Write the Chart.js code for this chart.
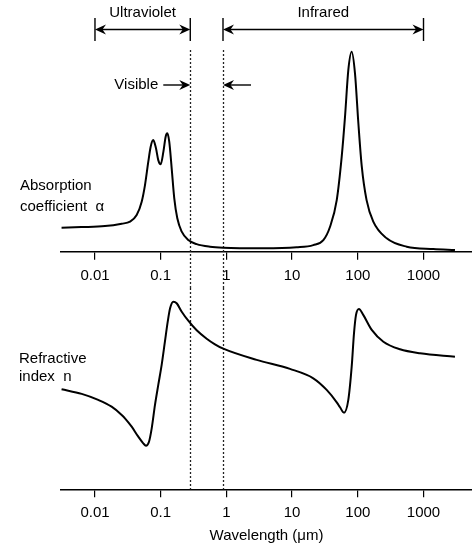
<!DOCTYPE html>
<html>
<head>
<meta charset="utf-8">
<script src="https://cdn.jsdelivr.net/npm/chart.js@4.4.1/dist/chart.umd.min.js"></script>
<style>
  html, body { margin: 0; padding: 0; background: #fff; }
  #wrap { position: relative; width: 472px; height: 544px; }
  #absChart { position: absolute; left: 0; top: 0; }
  #refChart { position: absolute; left: 0; top: 288px; }
</style>
</head>
<body>
<div id="wrap">
  <canvas id="absChart" width="472" height="288"></canvas>
  <canvas id="refChart" width="472" height="256"></canvas>
</div>
<script>
const FONT = '"Liberation Sans", Arial, Helvetica, sans-serif';
Chart.defaults.font.family = FONT;
Chart.defaults.font.size = 15;
Chart.defaults.color = '#000';

// wavelength axis (micrometres)
const tickValues = [0.01, 0.1, 1, 10, 100, 1000];
const xMin = 0.00304;
const xMax = 5470;
const visibleEdges = [0.282, 0.888];
const uvRange = [0.01, 0.282];
const irRange = [0.888, 1000];

// absorption coefficient (arbitrary units)
const absWavelength = [0.0031, 0.0062, 0.0142, 0.0255, 0.0341, 0.0431, 0.0514, 0.0577, 0.0648, 0.0704,
  0.0771, 0.0848, 0.0919, 0.100, 0.110, 0.119, 0.126, 0.135, 0.147, 0.161,
  0.179, 0.209, 0.263, 0.353, 0.563, 0.897, 3.65, 11.7, 21.0, 29.9,
  37.8, 47.8, 56.9, 63.9, 71.7, 80.7, 90.6, 102, 115, 136,
  172, 275, 555, 1410, 3010];
const absValues = [12.0, 12.3, 12.8, 14.0, 15.0, 18.3, 25.0, 33.3, 45.0, 52.5,
  55.8, 51.7, 45.8, 43.7, 50.0, 57.5, 59.2, 55.0, 41.7, 26.7,
  16.7, 10.0, 5.8, 3.8, 2.5, 2.0, 1.7, 2.2, 3.3, 5.8,
  12.5, 25.8, 47.5, 67.5, 90.8, 100, 89.2, 64.2, 42.5, 25.8,
  15.0, 6.7, 2.5, 1.3, 0.8];

// refractive index (arbitrary units)
const refWavelength = [0.0031, 0.00628, 0.0112, 0.0179, 0.0255, 0.0286, 0.0362, 0.0456, 0.0543, 0.0597,
  0.0664, 0.0730, 0.0819, 0.0919, 0.1035, 0.116, 0.128, 0.139, 0.156, 0.175,
  0.209, 0.263, 0.353, 0.501, 0.670, 0.897, 2.89, 9.29, 21.0, 33.6,
  47.8, 53.6, 61.7, 71.7, 80.7, 87.5, 93.9, 104, 121, 163,
  245, 439, 885, 3010];
const refValues = [50, 47.7, 44.7, 41.3, 37.2, 35.5, 31.3, 26.3, 23.0, 21.8,
  23.8, 30.5, 42.2, 52.2, 62.2, 73.8, 83.8, 90.5, 93.8, 93.0,
  88.8, 84.3, 79.5, 75.3, 72.5, 70.3, 64.7, 60.2, 55.5, 49.7,
  43.5, 41.0, 38.3, 44.7, 61.3, 78, 87.2, 90.2, 87.2, 79.7,
  73.8, 70, 68, 66.3];

function arrowHead(ctx, x, y, dir) {
  ctx.beginPath();
  ctx.moveTo(x, y);
  ctx.lineTo(x - dir * 11, y - 5);
  ctx.lineTo(x - dir * 7.5, y);
  ctx.lineTo(x - dir * 11, y + 5);
  ctx.closePath();
  ctx.fill();
}

function hLine(ctx, x1, x2, y) {
  ctx.beginPath();
  ctx.moveTo(x1, y);
  ctx.lineTo(x2, y);
  ctx.stroke();
}

function bracket(ctx, x1, x2, label) {
  ctx.beginPath();
  ctx.moveTo(x1, 18); ctx.lineTo(x1, 41);
  ctx.moveTo(x2, 18); ctx.lineTo(x2, 41);
  ctx.stroke();
  hLine(ctx, x1 + 6, x2 - 6, 29.5);
  arrowHead(ctx, x1, 29.5, -1);
  arrowHead(ctx, x2, 29.5, 1);
  ctx.textAlign = 'center';
  ctx.fillText(label, (x1 + x2) / 2, 13);
}

function dotted(chart, y1, y2) {
  const ctx = chart.ctx, xs = chart.scales.x;
  ctx.save();
  ctx.strokeStyle = '#222';
  ctx.lineWidth = 1.3;
  ctx.setLineDash([2, 2]);
  visibleEdges.forEach(v => {
    const x = Math.round(xs.getPixelForValue(v)) + 0.5;
    ctx.beginPath();
    ctx.moveTo(x, y1);
    ctx.lineTo(x, y2);
    ctx.stroke();
  });
  ctx.restore();
}

const topDecor = {
  id: 'topDecor',
  beforeDatasetsDraw(chart) {
    dotted(chart, 50, chart.height);
  },
  afterDraw(chart) {
    const ctx = chart.ctx, xs = chart.scales.x;
    ctx.save();
    ctx.strokeStyle = '#000';
    ctx.fillStyle = '#000';
    ctx.lineWidth = 1.4;
    ctx.font = '15px ' + FONT;
    ctx.textBaseline = 'middle';
    bracket(ctx, xs.getPixelForValue(uvRange[0]), xs.getPixelForValue(uvRange[1]), 'Ultraviolet');
    bracket(ctx, xs.getPixelForValue(irRange[0]), xs.getPixelForValue(irRange[1]), 'Infrared');
    const v1 = xs.getPixelForValue(visibleEdges[0]);
    const v2 = xs.getPixelForValue(visibleEdges[1]);
    hLine(ctx, v1 - 27, v1 - 6, 85);
    arrowHead(ctx, v1, 85, 1);
    hLine(ctx, v2 + 6, v2 + 28, 85);
    arrowHead(ctx, v2, 85, -1);
    ctx.textAlign = 'right';
    ctx.fillText('Visible', v1 - 32, 85);
    ctx.textAlign = 'left';
    ctx.fillText('Absorption', 20, 186);
    ctx.fillText('coefficient  \u03b1', 20, 207);
    ctx.restore();
  }
};

const bottomDecor = {
  id: 'bottomDecor',
  beforeDatasetsDraw(chart) {
    dotted(chart, 0, chart.chartArea.bottom);
  },
  afterDraw(chart) {
    const ctx = chart.ctx;
    ctx.save();
    ctx.fillStyle = '#000';
    ctx.font = '15px ' + FONT;
    ctx.textBaseline = 'middle';
    ctx.textAlign = 'left';
    ctx.fillText('Refractive', 19, 71);
    ctx.fillText('index  n', 19, 89);
    ctx.restore();
  }
};

function xAxis(height, title) {
  return {
    type: 'logarithmic',
    min: xMin,
    max: xMax,
    afterBuildTicks: s => { s.ticks = tickValues.map(v => ({ value: v })); },
    afterFit: s => { s.height = height; },
    grid: { drawOnChartArea: false, drawTicks: true, tickLength: 8, color: '#000', lineWidth: 1.2 },
    border: { display: true, color: '#000', width: 1.5 },
    ticks: { autoSkip: false, maxRotation: 0, padding: 7, color: '#000', callback: v => String(v) },
    title: title
  };
}

function curve(wl, vals) {
  return {
    data: wl.map((w, i) => ({ x: w, y: vals[i] })),
    borderColor: '#000',
    borderWidth: 2,
    pointRadius: 0,
    cubicInterpolationMode: 'monotone',
    fill: false
  };
}

new Chart(document.getElementById('absChart'), {
  type: 'line',
  data: { datasets: [curve(absWavelength, absValues)] },
  options: {
    responsive: false,
    animation: false,
    layout: { padding: { left: 61, right: 0, top: 41.7, bottom: 0 } },
    plugins: { legend: { display: false }, tooltip: { enabled: false } },
    scales: {
      x: xAxis(36.3, { display: false }),
      y: { display: false, min: 0, max: 105 }
    }
  },
  plugins: [topDecor]
});

new Chart(document.getElementById('refChart'), {
  type: 'line',
  data: { datasets: [curve(refWavelength, refValues)] },
  options: {
    responsive: false,
    animation: false,
    layout: { padding: { left: 61, right: 0, top: 1.3, bottom: 0 } },
    plugins: { legend: { display: false }, tooltip: { enabled: false } },
    scales: {
      x: xAxis(54.7, { display: true, text: 'Wavelength (\u03bcm)', color: '#000', font: { size: 15 }, padding: { top: 0, bottom: -1 } }),
      y: { display: false, min: 0, max: 100 }
    }
  },
  plugins: [bottomDecor]
});
</script>
</body>
</html>
